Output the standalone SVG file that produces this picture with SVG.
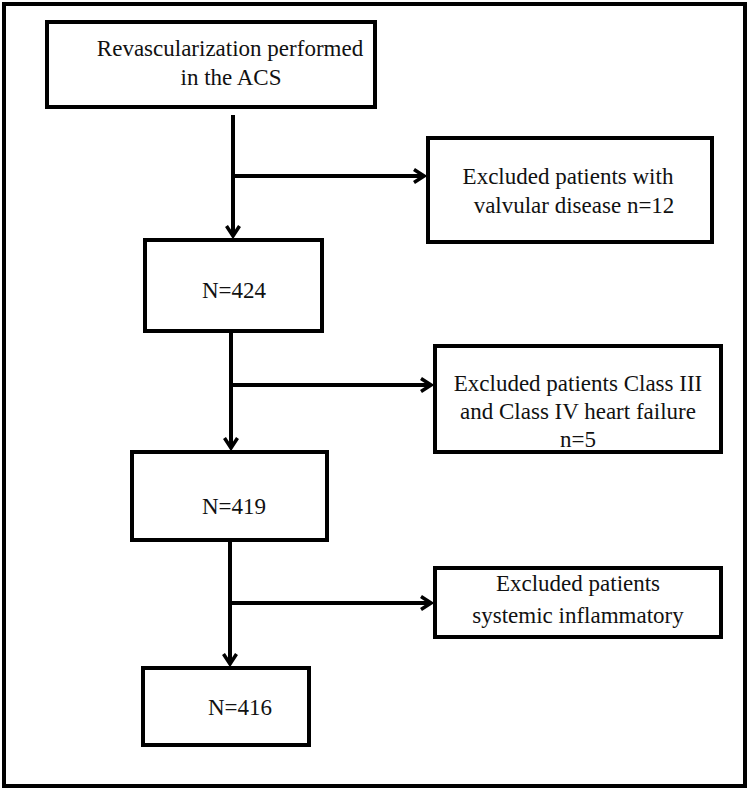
<svg xmlns="http://www.w3.org/2000/svg" width="750" height="791" viewBox="0 0 750 791">
<style>
  .box { fill: #fff; stroke: #000; stroke-width: 4; }
  .frame { fill: #fff; stroke: #000; stroke-width: 4; }
  .conn { fill: none; stroke: #000; stroke-width: 4; }
  text { font-family: "Liberation Serif", "Times New Roman", serif; font-size: 23px; fill: #111; text-anchor: middle; }
</style>
<defs>
  <marker id="arr" viewBox="0 0 16 16" refX="13" refY="8" markerWidth="16" markerHeight="16" markerUnits="userSpaceOnUse" orient="auto">
    <path d="M3,1.5 L13,8 L3,14.5" fill="none" stroke="#000" stroke-width="3.5" stroke-linejoin="miter"/>
  </marker>
</defs>
<rect class="frame" x="4" y="4" width="741" height="782"/>

<g id="connectors">
  <line class="conn" x1="233" y1="115" x2="233" y2="236" marker-end="url(#arr)"/>
  <line class="conn" x1="233" y1="176" x2="424" y2="176" marker-end="url(#arr)"/>
  <line class="conn" x1="231" y1="331" x2="231" y2="448" marker-end="url(#arr)"/>
  <line class="conn" x1="231" y1="385" x2="431" y2="385" marker-end="url(#arr)"/>
  <line class="conn" x1="230" y1="540" x2="230" y2="664" marker-end="url(#arr)"/>
  <line class="conn" x1="230" y1="603" x2="431" y2="603" marker-end="url(#arr)"/>
</g>

<g id="start">
  <rect class="box" x="47" y="22" width="328" height="85"/>
  <text x="230" y="56">Revascularization performed</text>
  <text x="231" y="85">in the ACS</text>
</g>
<g id="excl1">
  <rect class="box" x="428" y="138" width="284" height="104"/>
  <text x="568" y="184">Excluded patients with</text>
  <text x="574" y="213">valvular disease n=12</text>
</g>
<g id="n424">
  <rect class="box" x="145" y="240" width="177" height="91"/>
  <text x="234" y="298">N=424</text>
</g>
<g id="excl2">
  <rect class="box" x="435" y="346" width="286" height="106"/>
  <text x="578" y="391">Excluded patients Class III</text>
  <text x="578" y="419">and Class IV heart failure</text>
  <text x="578" y="447">n=5</text>
</g>
<g id="n419">
  <rect class="box" x="132" y="452" width="195" height="88"/>
  <text x="234" y="514">N=419</text>
</g>
<g id="excl3">
  <rect class="box" x="435" y="568" width="286" height="69"/>
  <text x="578" y="591">Excluded patients</text>
  <text x="578" y="623">systemic inflammatory</text>
</g>
<g id="n416">
  <rect class="box" x="143" y="668" width="166" height="77"/>
  <text x="240" y="715">N=416</text>
</g>
</svg>
